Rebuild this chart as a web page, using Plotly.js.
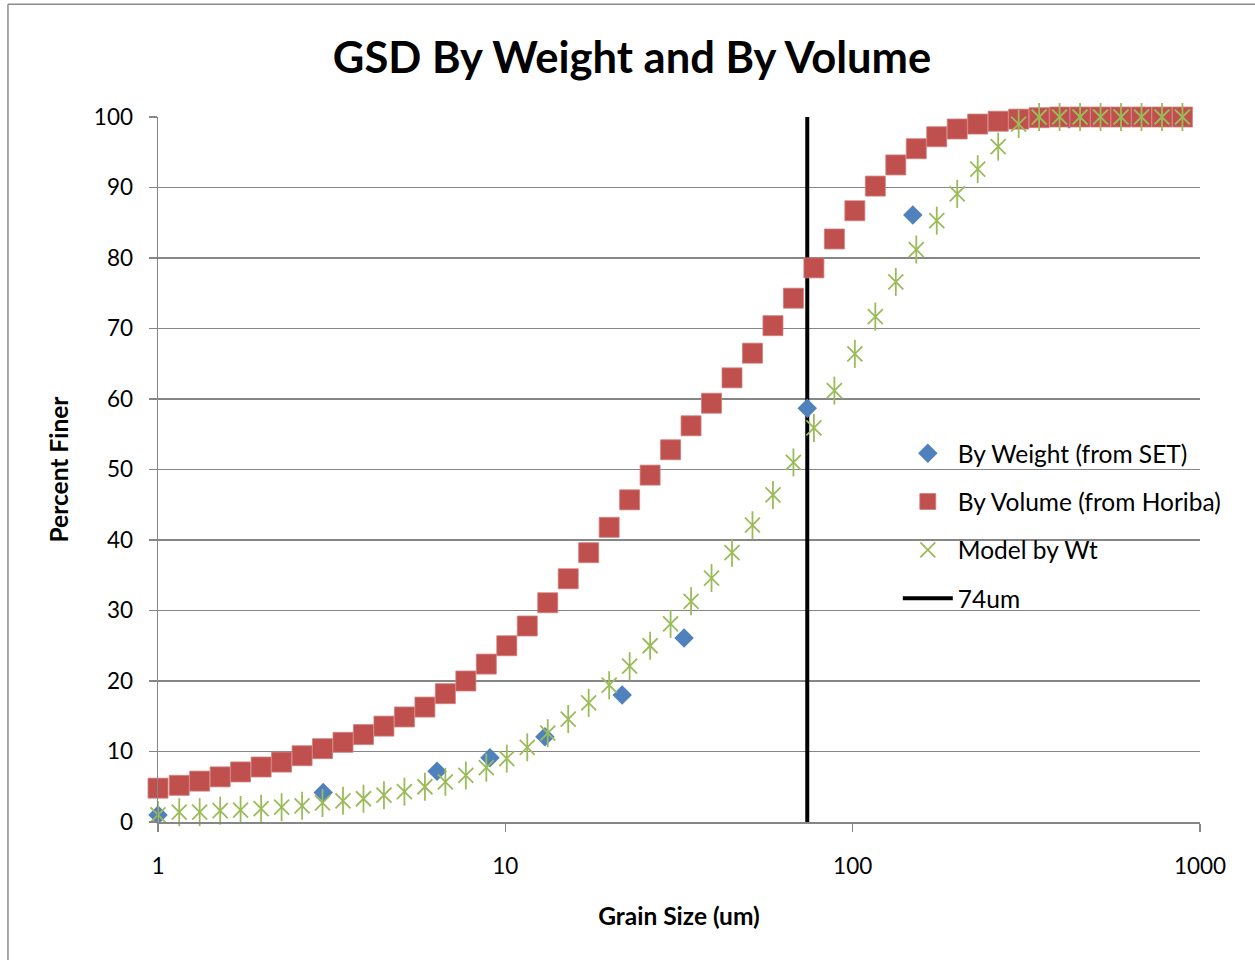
<!DOCTYPE html>
<html>
<head>
<meta charset="utf-8">
<script src="https://cdn.plot.ly/plotly-3.0.1.min.js"></script>
<style>
  html, body { margin: 0; padding: 0; background: #ffffff; }
  #chart { width: 1255px; height: 960px; }
</style>
</head>
<body>
<div id="chart"></div>
<script>
// Grain size classes (um)
const grainSizes = [1.000, 1.151, 1.318, 1.510, 1.729, 1.981, 2.269, 2.599, 2.976, 3.409,
  3.905, 4.472, 5.122, 5.867, 6.720, 7.697, 8.816, 10.097, 11.565, 13.246,
  15.172, 17.377, 19.904, 22.797, 26.111, 29.907, 34.255, 39.234, 44.938, 51.471,
  58.953, 67.523, 77.339, 88.583, 101.46, 116.21, 133.10, 152.45, 174.62, 200.00,
  229.08, 262.38, 300.52, 344.21, 394.24, 451.56, 517.20, 592.39, 678.50, 777.14, 890.12];

// By Volume (from Horiba), percent finer
const byVolume = [4.8, 5.2, 5.8, 6.4, 7.1, 7.8, 8.5, 9.4, 10.4, 11.3,
  12.4, 13.6, 14.9, 16.3, 18.2, 20.0, 22.4, 25.0, 27.8, 31.1,
  34.5, 38.2, 41.8, 45.7, 49.2, 52.8, 56.2, 59.4, 63.0, 66.5,
  70.4, 74.3, 78.6, 82.7, 86.7, 90.2, 93.2, 95.5, 97.2, 98.3,
  99.0, 99.4, 99.7, 99.9, 100, 100, 100, 100, 100, 100, 100];

// Model by Wt, percent finer
const modelByWt = [1.0, 1.4, 1.4, 1.6, 1.7, 1.9, 2.1, 2.3, 2.7, 3.0,
  3.3, 3.8, 4.3, 5.0, 5.7, 6.6, 7.7, 9.0, 10.6, 12.6,
  14.6, 16.9, 19.4, 22.1, 25.0, 28.1, 31.3, 34.6, 38.2, 42.1,
  46.4, 51.0, 55.9, 61.2, 66.4, 71.7, 76.6, 81.2, 85.3, 89.1,
  92.6, 95.8, 99.0, 100, 100, 100, 100, 100, 100, 100, 100];

// By Weight (from SET)
const weightSizes = [1.0, 2.99, 6.36, 9.03, 13.0, 21.7, 32.7, 74, 149, 420];
const byWeight = [1.0, 4.2, 7.2, 9.1, 12.1, 18.0, 26.1, 58.7, 86.1, 99.7];

// 74um reference line
const refSize = [74, 74];
const refRange = [0, 100];

const xTicks = [1, 10, 100, 1000];
const xTickText = ['1', '10', '100', '1000'];

const FONT = 'Lato, "Open Sans", sans-serif';

const traces = [
  {
    x: refSize, y: refRange, type: 'scatter', mode: 'lines', name: '74um',
    line: { color: '#000000', width: 4 },
    legendgroup: 'g4', legendrank: 4, hoverinfo: 'skip'
  },
  {
    x: weightSizes, y: byWeight, type: 'scatter', mode: 'markers', cliponaxis: false,
    name: 'By Weight (from SET)', legendgroup: 'g1', legendrank: 1,
    marker: { symbol: 'diamond', size: 15, color: '#4F81BD', line: { width: 0 } }
  },
  {
    x: grainSizes, y: byVolume, type: 'scatter', mode: 'markers', cliponaxis: false,
    name: 'By Volume (from Horiba)', legendgroup: 'g2', legendrank: 2,
    marker: { symbol: 'square', size: 20, color: '#C0504D', line: { width: 0.8, color: '#D07E7B' } }
  },
  {
    x: grainSizes, y: modelByWt, type: 'scatter', mode: 'markers', cliponaxis: false,
    name: 'Model by Wt', legendgroup: 'g3', legendrank: 3,
    marker: { symbol: 'x-thin-open', size: 15, color: '#9BBB59', line: { width: 1.8, color: '#9BBB59' } }
  },
  {
    x: grainSizes, y: modelByWt, type: 'scatter', mode: 'markers', cliponaxis: false,
    name: 'Model by Wt', legendgroup: 'g3', legendrank: 3, showlegend: false,
    marker: { symbol: 'line-ns-open', size: 20, color: '#9BBB59', line: { width: 1.8, color: '#9BBB59' } }
  }
];

const layout = {
  width: 1255, height: 960,
  paper_bgcolor: '#ffffff', plot_bgcolor: '#ffffff',
  margin: { l: 158, r: 55, t: 117, b: 138 },
  font: { family: FONT, color: '#000000', size: 22 },
  title: {
    text: '<b>GSD By Weight and By Volume</b>',
    font: { family: FONT, size: 43.5, color: '#000000' },
    x: 0.5036, xanchor: 'center', y: 0.94, yanchor: 'middle', xref: 'container', yref: 'container'
  },
  showlegend: true,
  legend: {
    x: 0.71, xanchor: 'left', y: 0.555, yanchor: 'top',
    bgcolor: 'rgba(0,0,0,0)', borderwidth: 0,
    font: { family: FONT, size: 24.5, color: '#000000' },
    traceorder: 'grouped', tracegroupgap: 13.5, itemwidth: 50
  },
  xaxis: {
    type: 'log', range: [0, 3],
    tickvals: xTicks, ticktext: xTickText,
    ticks: 'outside', ticklen: 8, tickwidth: 1.5, tickcolor: '#868686',
    ticklabelstandoff: 15,
    showline: true, linecolor: '#868686', linewidth: 1.5,
    showgrid: false, zeroline: false,
    tickfont: { family: FONT, size: 22.5, color: '#000000' },
    title: { text: '<b>Grain Size (um)</b>', font: { family: FONT, size: 24.5, color: '#000000' }, standoff: 30 }
  },
  yaxis: {
    range: [0, 100], dtick: 10, tick0: 0,
    ticks: 'outside', ticklen: 8, tickwidth: 1.5, tickcolor: '#868686',
    ticklabelstandoff: 11,
    showline: true, linecolor: '#868686', linewidth: 1.5,
    showgrid: true, gridcolor: '#868686', gridwidth: 1.5, zeroline: false,
    tickfont: { family: FONT, size: 22.5, color: '#000000' },
    title: { text: '<b>Percent Finer</b>', font: { family: FONT, size: 24.5, color: '#000000' }, standoff: 18 }
  },
  shapes: [
    { type: 'line', xref: 'paper', yref: 'paper', x0: -0.144, x1: -0.144, y0: 1.160, y1: -0.25,
      line: { color: '#8C8C8C', width: 1.5 } },
    { type: 'line', xref: 'paper', yref: 'paper', x0: -0.144, x1: 1.1, y0: 1.160, y1: 1.160,
      line: { color: '#8C8C8C', width: 1.5 } }
  ]
};

Plotly.newPlot('chart', traces, layout, { displayModeBar: false, staticPlot: true });
</script>
</body>
</html>
